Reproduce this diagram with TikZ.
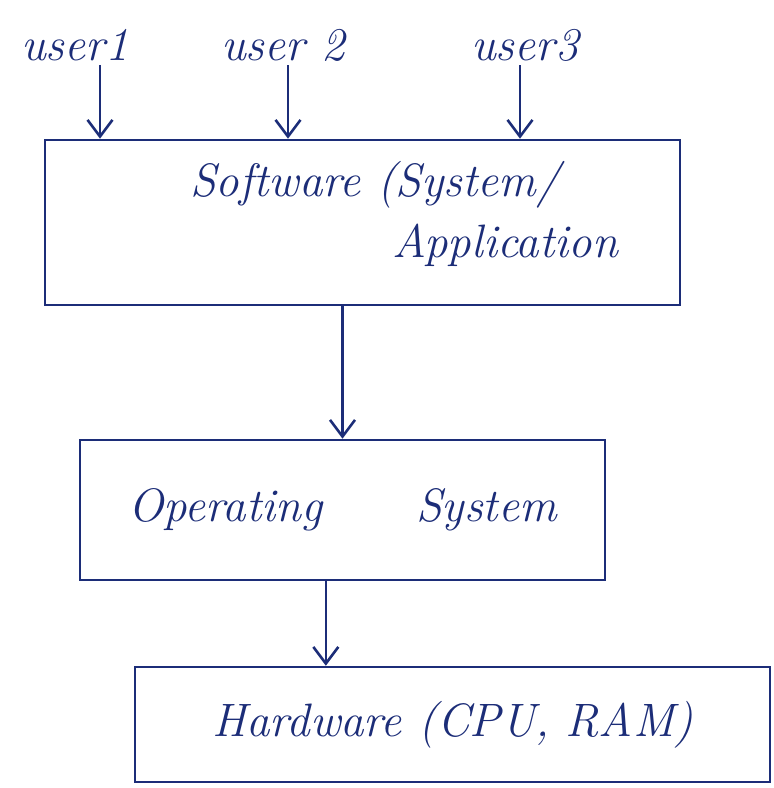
\documentclass[tikz,border=0pt]{standalone}
\usepackage{tikz}
\usetikzlibrary{arrows.meta, positioning}
\definecolor{ink}{RGB}{28,45,120}
\tikzset{>={Straight Barb[width=7.5mm,length=5mm,line width=2.2pt]}}
\def \inktext {\fontsize{40}{48}\selectfont\itshape}
\def \boxwidth {19.05cm}

\begin{document}
\begin{tikzpicture}[x=0.03cm, y=-0.03cm, every node/.style={text=ink}, box/.style={draw=ink, line width=2.2pt, inner sep=0pt}, link/.style={->, draw=ink, line width=2.2pt}]
\useasboundingbox (0,0) rectangle (773,788);

\node (user1) at (75,45) {\inktext user1};
\node (user2) at (283,45) {\inktext user 2};
\node (user3) at (525,45) {\inktext user3};

\node (sw) [box, minimum width = \boxwidth, minimum height = 4.95cm] at (362.5,222.5) {};
\node (swa) at (375,185) {\inktext Software (System/};
\node (swb) at (505,245) {\inktext Application};

\node (os) [box, minimum width = 15.75cm, minimum height = 4.2cm] at (342.5,510) {\inktext Operating\qquad System};

\node (hw) [box, minimum width = \boxwidth, minimum height = 3.45cm] at (452.5,724.5) {\inktext Hardware (CPU, RAM)};

\draw[link] ([xshift = 0.75cm] user1.south) to ([xshift = 0.75cm] user1.south |- sw.north);
\draw[link] ([xshift = 0.15cm] user2.south) to ([xshift = 0.15cm] user2.south |- sw.north);
\draw[link] ([xshift = -0.15cm] user3.south) to ([xshift = -0.15cm] user3.south |- sw.north);
\draw[link] (os.north |- sw.south) to (os.north);
\draw[link] ([xshift = -0.5cm] os.south) to ([xshift = -0.5cm] os.south |- hw.north);

\end{tikzpicture}
\end{document}
